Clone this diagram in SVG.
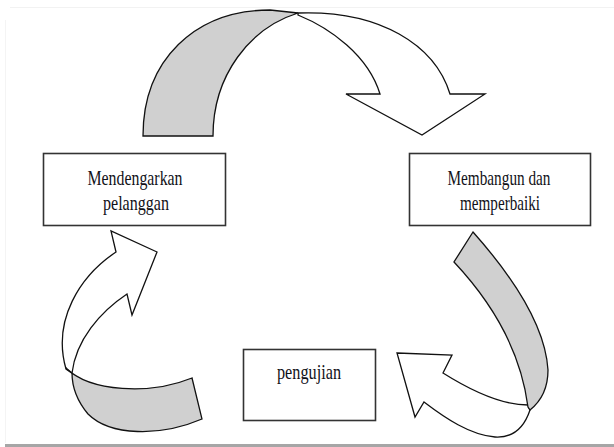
<svg xmlns="http://www.w3.org/2000/svg" width="614" height="447" viewBox="0 0 614 447">
<style>
.box{fill:#fff;stroke:#333;stroke-width:1.6}
.lbl{font-family:"Liberation Serif","Times New Roman",serif;font-size:21px;fill:#111118;text-anchor:middle}
.w{fill:#fff;stroke:#111;stroke-width:1.3;stroke-linejoin:miter}
.g{fill:#d0d0d0;stroke:#111;stroke-width:1.3;stroke-linejoin:miter}
</style>
<rect width="614" height="447" fill="#fff"/>
<line x1="10" y1="7.5" x2="614" y2="7.5" stroke="#f2f2f2" stroke-width="1"/>
<line x1="5.5" y1="20" x2="5.5" y2="443" stroke="#f4f4f4" stroke-width="1"/>
<line x1="5" y1="445.5" x2="614" y2="445.5" stroke="#a6a6a6" stroke-width="3"/>
<g id="connectors">
  <g id="arrow-top">
    <path class="w" d="M298,13 C380,10 435,45 450,94 L485,94 L422,135 L346,94 L380,94 C368,55 330,28 298,15 Z"/>
    <path class="g" d="M143,136 C143,60 195,10 270,10 L298,13 C250,28 213,75 213,136 Z"/>
  </g>
  <g id="arrow-right">
    <path class="w" d="M397,353 L452,355 L443,373 C470,390 500,405 528,405 L530,410 C524,428 512,438 495,437 C470,435 445,418 424,402 L415,417 Z"/>
    <path class="g" d="M473,232 C505,268 545,320 548,370 C548,390 540,402 530,410 L528,407 C520,345 485,295 454,262 Z"/>
  </g>
  <g id="arrow-left">
    <path class="w" d="M116,252 L111,231 L157,252 L132,315 L127,294 C100,312 76,340 72,373 L66,369 C52,320 80,276 116,252 Z"/>
    <path class="g" d="M66,368 C90,392 150,395 192,378 L202,419 C160,437 110,436 88,414 C78,402 72,388 72,373 Z"/>
  </g>
</g>
<g id="node-mendengarkan">
  <rect class="box" x="43.5" y="153.5" width="182" height="72"/>
  <text class="lbl" x="135" y="185" textLength="95" lengthAdjust="spacingAndGlyphs">Mendengarkan</text>
  <text class="lbl" x="136" y="210" textLength="66" lengthAdjust="spacingAndGlyphs">pelanggan</text>
</g>
<g id="node-membangun">
  <rect class="box" x="409.5" y="153.5" width="181" height="72"/>
  <text class="lbl" x="499" y="185" textLength="103" lengthAdjust="spacingAndGlyphs">Membangun dan</text>
  <text class="lbl" x="500" y="210" textLength="80" lengthAdjust="spacingAndGlyphs">memperbaiki</text>
</g>
<g id="node-pengujian">
  <rect class="box" x="243.5" y="349.5" width="132" height="71"/>
  <text class="lbl" x="309" y="379" textLength="64" lengthAdjust="spacingAndGlyphs">pengujian</text>
</g>
</svg>
